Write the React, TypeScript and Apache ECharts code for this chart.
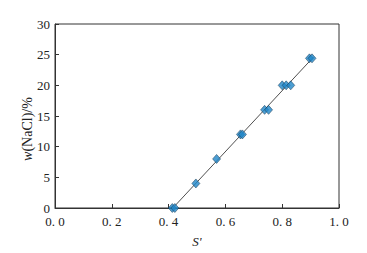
import React, { useEffect, useRef } from "react";
import * as echarts from "echarts";

const xTicks = ["0. 0", "0. 2", "0. 4", "0. 6", "0. 8", "1. 0"];
const sValues = [0.413, 0.422, 0.496, 0.569, 0.653, 0.66, 0.738, 0.752, 0.8, 0.814, 0.83, 0.896, 0.905];
const wValues = [0, 0, 4, 8, 12, 12, 16, 16, 20, 20, 20, 24.4, 24.4];
const fitS = [0.415, 0.91];
const fitW = [0, 24.6];

export default function App() {
  const ref = useRef<HTMLDivElement>(null);
  useEffect(() => {
    const chart = echarts.init(ref.current!, null, { renderer: "svg" });
    const font = "Times New Roman";
    chart.setOption({
      animation: false,
      backgroundColor: "#ffffff",
      grid: { left: 55, right: 28, top: 24, bottom: 44, show: true, borderColor: "#333", borderWidth: 1 },
      graphic: [
        {
          type: "text",
          x: 27,
          y: 129,
          rotation: Math.PI / 2,
          style: {
            text: "{i|w}(NaCl)/%",
            fontFamily: font,
            fontSize: 14,
            fill: "#222",
            align: "center",
            verticalAlign: "middle",
            rich: { i: { fontFamily: font, fontStyle: "italic", fontSize: 14, fill: "#222" } },
          },
        },
      ],
      xAxis: {
        type: "value",
        min: 0,
        max: 1,
        interval: 0.2,
        name: "S'",
        nameLocation: "middle",
        nameGap: 27,
        nameTextStyle: { fontFamily: font, fontStyle: "italic", fontSize: 13, color: "#222" },
        axisLine: { lineStyle: { color: "#333" } },
        axisTick: { inside: true, length: 4, lineStyle: { color: "#333" } },
        splitLine: { show: false },
        axisLabel: {
          fontFamily: font,
          fontSize: 13,
          color: "#222",
          margin: 7,
          formatter: (v: number) => xTicks[Math.round(v / 0.2)] ?? "",
        },
      },
      yAxis: {
        type: "value",
        min: 0,
        max: 30,
        interval: 5,
        axisLine: { show: true, lineStyle: { color: "#333" } },
        axisTick: { show: true, inside: true, length: 4, lineStyle: { color: "#333" } },
        splitLine: { show: false },
        axisLabel: { fontFamily: font, fontSize: 13, color: "#222", margin: 5 },
      },
      series: [
        {
          type: "line",
          data: fitS.map((s, i) => [s, fitW[i]]),
          symbol: "none",
          lineStyle: { color: "#222", width: 0.8 },
          z: 1,
        },
        {
          type: "scatter",
          data: sValues.map((s, i) => [s, wValues[i]]),
          symbol: "diamond",
          symbolSize: [8, 9],
          itemStyle: { color: "#1f86c8", borderColor: "#10304a", borderWidth: 0.6 },
          z: 2,
        },
      ],
    });
    return () => chart.dispose();
  }, []);
  return (
    <div
      ref={ref}
      style={{ position: "absolute", left: 0, top: 0, width: 367, height: 253 }}
    />
  );
}
